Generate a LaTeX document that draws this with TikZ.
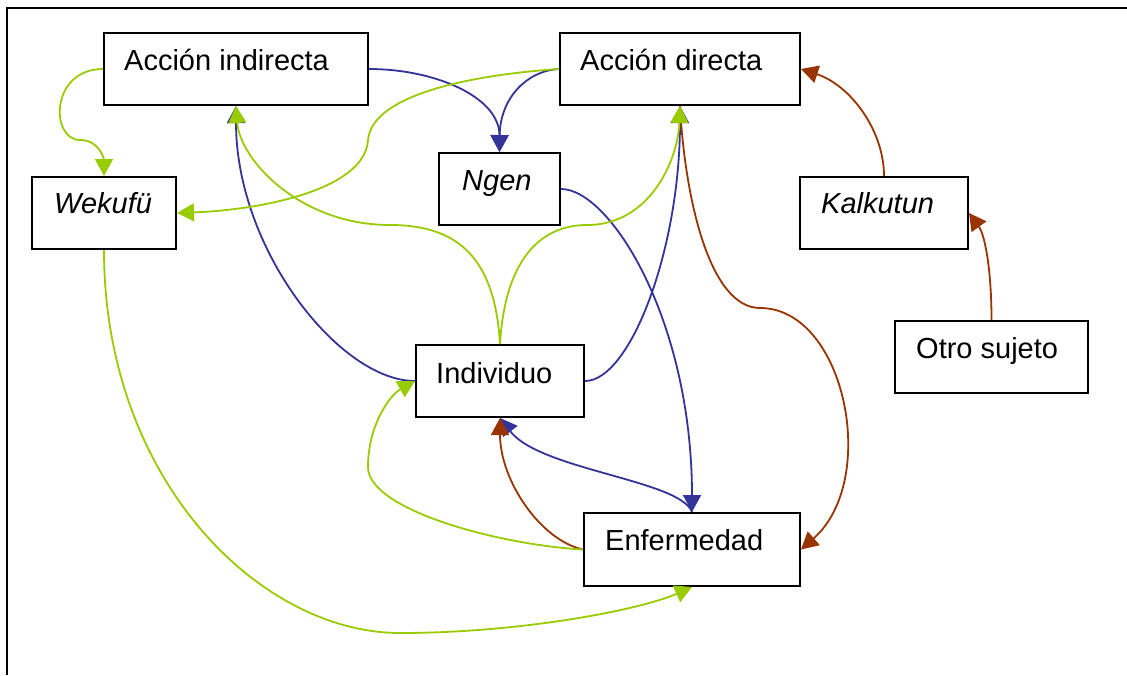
\documentclass[tikz,border=0pt]{standalone}
\usepackage{fontspec}
\setmainfont{Liberation Sans}
\usetikzlibrary{arrows.meta,calc}
\definecolor{cgreen}{HTML}{99CC00}
\definecolor{cblue}{HTML}{333399}
\definecolor{cbrown}{HTML}{993300}
\tikzset{
  box/.style={draw=black, line width=2pt, fill=white, rectangle, inner sep=0pt},
  lbl/.style={anchor=base west, inner sep=0pt, font=\fontsize{29}{34}\selectfont},
  conn/.style={line width=1.8pt, -{Triangle[length=17pt,width=18pt]}},
  gconn/.style={conn, draw=cgreen},
  bconn/.style={conn, draw=cblue},
  rconn/.style={conn, draw=cbrown},
}
\begin{document}
\begin{tikzpicture}[x=1pt,y=-1pt]
\useasboundingbox (0,0) rectangle (1127,675);
\draw[line width=2pt] (7,675) -- (7,7.5) -- (1127,7.5);
% boxes
\node[box, minimum width=264, minimum height=72] (ai) at (236,69) {};
\node[box, minimum width=240, minimum height=72] (ad) at (680,69) {};
\node[box, minimum width=121, minimum height=72] (ng) at (499.5,189) {};
\node[box, minimum width=144, minimum height=72] (wk) at (104,213) {};
\node[box, minimum width=168, minimum height=72] (kk) at (884,213) {};
\node[box, minimum width=193, minimum height=72] (os) at (991.5,357) {};
\node[box, minimum width=168, minimum height=72] (ind) at (500,381) {};
\node[box, minimum width=216, minimum height=73] (enf) at (692,549.5) {};
% labels
\node[lbl] (ait) at ($(ai.north west)+(21,38)$) {Acción indirecta};
\node[lbl] (adt) at ($(ad.north west)+(21,38)$) {Acción directa};
\node[lbl] (ngt) at ($(ng.north west)+(24,38)$) {\itshape Ngen};
\node[lbl] (wkt) at ($(wk.north west)+(23,37)$) {\itshape Wekufü};
\node[lbl] (kkt) at ($(kk.north west)+(22,37)$) {\itshape Kalkutun};
\node[lbl] (ost) at ($(os.north west)+(22,38)$) {Otro sujeto};
\node[lbl] (indt) at ($(ind.north west)+(21,39)$) {Individuo};
\node[lbl] (enft) at ($(enf.north west)+(22,38)$) {Enfermedad};
% blue connectors
\draw[bconn] (ai.east) .. controls (435,69) and (499.5,97) .. (ng.north);
\draw[bconn] (ad.west) .. controls (525,71) and (500,100) .. (ng.north);
\draw[bconn] (ng.east) .. controls (610,189) and (692,320) .. (enf.north);
\draw[bconn] (ind.east) .. controls (630,381) and (680,250) .. (ad.south);
\draw[bconn] (ind.west) .. controls (340,381) and (236,250) .. (ai.south);
\draw[bconn] (enf.north) .. controls (680,480) and (540,470) .. (ind.south);
% brown connectors
\draw[rconn] (kk.north) .. controls (884,130) and (850,85) .. (ad.east);
\draw[rconn] (os.north) .. controls (991.5,270) and (985,235) .. (kk.east);
\draw[rconn] (ad.south) .. controls (685,200) and (710,308) .. (760,308)
   .. controls (845,308) and (880,480) .. (enf.east);
\draw[rconn] (enf.west) .. controls (540,540) and (500,480) .. (ind.south);
% green connectors
\draw[gconn] (ai.west) .. controls (50,69) and (50,140) .. (80,140)
   .. controls (100,140) and (104,160) .. (wk.north);
\draw[gconn] (ad.west) .. controls (470,75) and (372,95) .. (368,140)
   .. controls (365,190) and (260,210) .. (wk.east);
\draw[gconn] (ind.north) .. controls (495,260) and (460,225) .. (390,225)
   .. controls (300,225) and (240,160) .. (ai.south);
\draw[gconn] (ind.north) .. controls (505,260) and (540,225) .. (587,225)
   .. controls (650,225) and (678,160) .. (ad.south);
\draw[gconn] (enf.west) .. controls (500,545) and (368,510) .. (368,467)
   .. controls (368,425) and (390,395) .. (ind.west);
\draw[gconn] (wk.south) .. controls (104,480) and (260,633) .. (400,633)
   .. controls (520,633) and (640,610) .. (enf.south);
\end{tikzpicture}
\end{document}
